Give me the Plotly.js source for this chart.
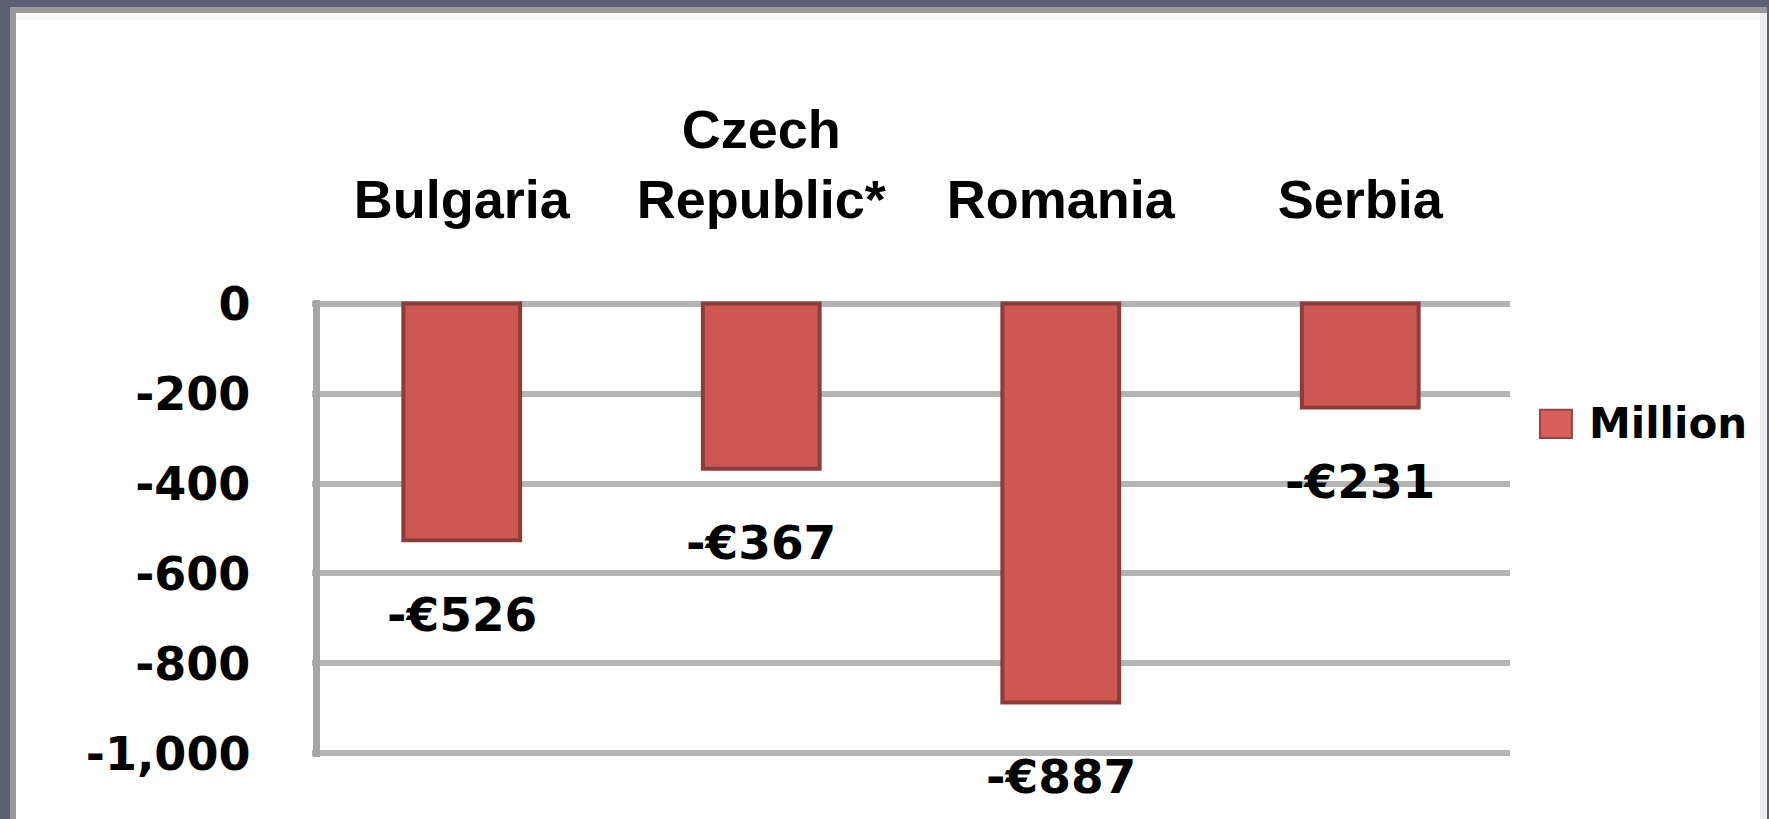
<!DOCTYPE html>
<html>
<head>
<meta charset="utf-8">
<script src="https://cdn.plot.ly/plotly-3.0.1.min.js"></script>
<style>
html,body{margin:0;padding:0;width:1769px;height:819px;overflow:hidden;background:#5c6074;}
#frame{position:absolute;left:10px;top:7px;width:1757px;height:812px;background:#9a9a9c;}
#plot{position:absolute;left:16px;top:13px;width:1744px;height:806px;background:#ffffff;}
#topstrip{position:absolute;left:16px;top:13px;width:1744px;height:7px;background:#f8f8f8;z-index:5;}
#edge{position:absolute;left:1760px;top:13px;width:7px;height:806px;background:#ececec;z-index:5;}
</style>
</head>
<body>
<div id="frame"></div>
<div id="plot"></div>
<div id="topstrip"></div>
<div id="edge"></div>
<script>
// ---- data ----
const categories = ["Bulgaria", "Czech Republic*", "Romania", "Serbia"];
const categoryLabels = ["Bulgaria", "Czech<br>Republic*", "Romania", "Serbia"];
const values = [-526, -367, -887, -231];
const dataLabels = values.map(v => "-\u20AC" + Math.abs(v));
const yTickVals = [0, -200, -400, -600, -800, -1000];
const yTickText = ["0", "-200", "-400", "-600", "-800", "-1,000"];
const seriesName = "Million";

const FONT = "Liberation Sans, Arial, sans-serif";
const NUMFONT = "DejaVu Sans, Verdana, sans-serif";

const trace = {
  type: "bar",
  x: categories,
  y: values,
  name: seriesName,
  showlegend: false,
  hoverinfo: "skip",
  marker: {color: "#cd5753", line: {color: "#8a3d3b", width: 4}}
};

const annotations = categories.map((c, i) => ({
  x: c, y: values[i], xref: "x", yref: "y",
  text: dataLabels[i], showarrow: false,
  yanchor: "middle", xanchor: "center", yshift: -74,
  font: {family: NUMFONT, size: 47, color: "#000", weight: 700}
}));
annotations.push({
  xref: "paper", yref: "paper", x: 1.064, y: 0.729,
  xanchor: "left", yanchor: "middle", text: seriesName, showarrow: false,
  font: {family: NUMFONT, size: 42, color: "#000", weight: 700}
});

const layout = {
  width: 1744, height: 806,
  margin: {l: 296, r: 250, t: 287, b: 62, pad: 0},
  paper_bgcolor: "rgba(0,0,0,0)",
  plot_bgcolor: "#ffffff",
  bargap: 0.61,
  showlegend: false,
  xaxis: {
    type: "category", side: "top",
    tickvals: categories, ticktext: categoryLabels,
    showgrid: false, showline: false, zeroline: false, ticks: "",
    ticklabelstandoff: 70,
    tickfont: {family: FONT, size: 54, color: "#000", weight: 700},
    range: [-0.5, 3.5], fixedrange: true
  },
  yaxis: {
    range: [-1008, 8],
    anchor: "free", position: 0.003,
    tickvals: yTickVals, ticktext: yTickText,
    showgrid: true, gridcolor: "#b4b4b4", gridwidth: 6,
    showline: true, linecolor: "#a6a6a6", linewidth: 7,
    zeroline: false, ticks: "",
    ticklabelstandoff: 53,
    tickfont: {family: NUMFONT, size: 46, color: "#000", weight: 700},
    fixedrange: true
  },
  shapes: [{
    type: "rect", xref: "paper", yref: "paper",
    x0: 1.0250, x1: 1.0517, y0: 0.698, y1: 0.76,
    fillcolor: "#d75e59", line: {color: "#8d4846", width: 2}
  }],
  annotations: annotations
};

Plotly.newPlot("plot", [trace], layout, {displayModeBar: false, staticPlot: true});
</script>
</body>
</html>
